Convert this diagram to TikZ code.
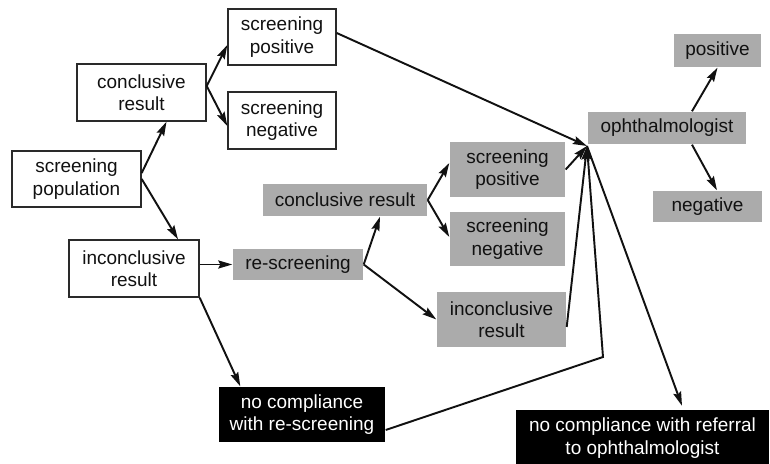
\documentclass[tikz,border=0pt]{standalone}
\usepackage{fontspec}
\setmainfont{Liberation Sans}
\usepackage{xcolor}
\definecolor{scink}{HTML}{111111}
\definecolor{scrule}{HTML}{2A2A2A}
\definecolor{scgray}{HTML}{ABABAB}
\usepackage{tikz}
\usetikzlibrary{arrows.meta,calc}
\tikzset{
  scbox/.style  ={rectangle, draw=scrule, fill=white, line width=0.8pt,
                  inner sep=0pt, align=center, text=scink,
                  font=\fontsize{10.8}{12.8}\selectfont},
  scgrey/.style ={scbox, draw=none, fill=scgray},
  scdark/.style ={scbox, draw=none, fill=black, text=white},
  scarrow/.style={-{Stealth[length=8pt,width=4.6pt,inset=1.2pt]}, line width=1.1pt, draw=scink},
  scline/.style ={line width=1.1pt, draw=scink},
}

\begin{document}
\begin{tikzpicture}
  \useasboundingbox (0,0) rectangle (15.4,9.28);
  % first round (white)
  \node[scbox, minimum width=2.58cm, minimum height=1.12cm] (pop)    at (1.53,5.70) {screening\\population};
  \node[scbox, minimum width=2.58cm, minimum height=1.14cm] (concl)  at (2.83,7.43) {conclusive\\result};
  \node[scbox, minimum width=2.16cm, minimum height=1.12cm] (spos)   at (5.64,8.54) {screening\\positive};
  \node[scbox, minimum width=2.16cm, minimum height=1.14cm] (sneg)   at (5.64,6.87) {screening\\negative};
  \node[scbox, minimum width=2.60cm, minimum height=1.14cm] (incon)  at (2.68,3.91) {inconclusive\\result};
  % re-screening (grey)
  \node[scgrey, minimum width=2.60cm, minimum height=0.62cm] (rescr)  at (5.96,3.99) {re-screening};
  \node[scgrey, minimum width=3.28cm, minimum height=0.64cm] (concl2) at (6.90,5.28) {conclusive result};
  \node[scgrey, minimum width=2.30cm, minimum height=1.10cm] (spos2)  at (10.15,5.89) {screening\\positive};
  \node[scgrey, minimum width=2.30cm, minimum height=1.08cm] (sneg2)  at (10.15,4.50) {screening\\negative};
  \node[scgrey, minimum width=2.58cm, minimum height=1.10cm] (incon2) at (10.03,2.89) {inconclusive\\result};
  \node[scgrey, minimum width=3.16cm, minimum height=0.64cm] (ophth)  at (13.34,6.72) {ophthalmologist};
  \node[scgrey, minimum width=1.74cm, minimum height=0.66cm] (pos)    at (14.35,8.27) {positive};
  \node[scgrey, minimum width=2.18cm, minimum height=0.62cm] (neg)    at (14.15,5.15) {negative};
  % drop-outs (black)
  \node[scdark, minimum width=3.32cm, minimum height=1.10cm] (nocomp1) at (6.04,0.99) {no compliance\\with re-screening};
  \node[scdark, minimum width=5.06cm, minimum height=1.10cm] (nocomp2) at (12.85,0.52) {no compliance with referral\\to ophthalmologist};
  \coordinate (hub)  at (11.74,6.36);
  \coordinate (bend) at (12.06,2.14);
  % connectors
  \draw[scarrow] ($(pop.east)+(0,0.12)$) -- ($(concl.south)+(0.5,0)$);
  \draw[scarrow] (pop.east) -- ($(incon.north)+(0.88,0)$);
  \draw[scarrow] ($(concl.east)+(0,0.13)$) -- ($(spos.west)+(0,-0.16)$);
  \draw[scarrow] ($(concl.east)+(0,0.13)$) -- ($(sneg.west)+(0,-0.11)$);
  \draw[scarrow] ($(spos.east)+(0,0.08)$) -- (hub);
  \draw[scarrow] (incon.east |- rescr.west) -- (rescr.west);
  \draw[scarrow] (incon.south east) -- ($(nocomp1.north west)+(0.44,0)$);
  \draw[scarrow] (rescr.east) -- ($(concl2.south)+(0.7,0)$);
  \draw[scarrow] (rescr.east) -- (incon2.west);
  \draw[scarrow] (concl2.east) -- ($(spos2.west)+(0,0.13)$);
  \draw[scarrow] (concl2.east) -- ($(sneg2.west)+(0,0.04)$);
  \draw[scarrow] (spos2.east) -- (hub);
  \draw[scarrow] ($(incon2.east)+(0,-0.15)$) -- (hub);
  \draw[scarrow] ($(nocomp1.east)+(0,-0.31)$) -- (bend) -- (hub);
  \draw[scarrow] (hub) -- ($(nocomp2.north)+(0.79,0.08)$);
  \draw[scarrow] ($(ophth.north)+(0.5,0)$) -- (pos.south);
  \draw[scarrow] ($(ophth.south)+(0.5,0)$) -- ($(neg.north)+(0.19,0)$);
\end{tikzpicture}
\end{document}
